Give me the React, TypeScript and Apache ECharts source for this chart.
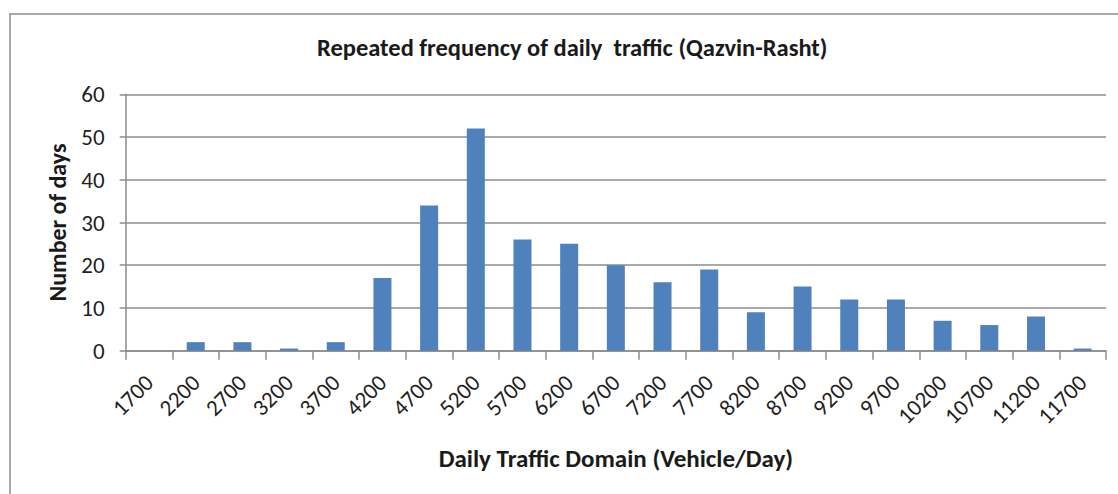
import React, { useEffect, useRef } from "react";
import * as echarts from "echarts";

const categories = ["1700", "2200", "2700", "3200", "3700", "4200", "4700", "5200", "5700", "6200", "6700", "7200", "7700", "8200", "8700", "9200", "9700", "10200", "10700", "11200", "11700"];
const days = [0, 2, 2, 0.5, 2, 17, 34, 52, 26, 25, 20, 16, 19, 9, 15, 12, 12, 7, 6, 8, 0.5];
const yTicks = [0, 10, 20, 30, 40, 50, 60];

const FONT = "Carlito, 'Open Sans', sans-serif";

export default function App() {
  const ref = useRef<HTMLDivElement>(null);
  useEffect(() => {
    if (!ref.current) return;
    const chart = echarts.init(ref.current, undefined, { renderer: "svg" });
    chart.setOption({
      animation: false,
      backgroundColor: "#ffffff",
      title: {
        text: "Repeated frequency of daily  traffic (Qazvin-Rasht)",
        left: 317,
        top: 35,
        padding: 0,
        textStyle: { fontFamily: FONT, fontSize: 24.5, fontWeight: "bold", color: "#1a1a1a" },
      },
      graphic: [
        {
          type: "rect",
          shape: { x: 10, y: 14, width: 1200, height: 600 },
          style: { fill: "none", stroke: "#8c8c8c", lineWidth: 1.5 },
          silent: true,
          z: -1,
        },
      ],
      grid: { left: 125.7, top: 94.3, right: 12, bottom: 143.3, containLabel: false },
      xAxis: {
        type: "category",
        data: categories,
        boundaryGap: true,
        axisLine: { show: true, lineStyle: { color: "#8c8c8c", width: 1.5 } },
        axisTick: { show: true, length: 9, lineStyle: { color: "#8c8c8c", width: 1.5 }, alignWithLabel: false },
        axisLabel: { rotate: 45, margin: 28, interval: 0, fontFamily: FONT, fontSize: 23, color: "#1f1f1f" },
        name: "Daily Traffic Domain (Vehicle/Day)",
        nameLocation: "middle",
        nameGap: 95,
        nameTextStyle: { fontFamily: FONT, fontSize: 25, fontWeight: "bold", color: "#1a1a1a" },
      },
      yAxis: {
        type: "value",
        min: 0,
        max: 60,
        interval: 10,
        axisLine: { show: true, lineStyle: { color: "#8c8c8c", width: 1.5 } },
        axisTick: { show: true, length: 6, lineStyle: { color: "#8c8c8c", width: 1.5 } },
        splitLine: { show: true, lineStyle: { color: "#8c8c8c", width: 1.5 } },
        axisLabel: {
          margin: 21,
          fontFamily: FONT,
          fontSize: 23,
          color: "#1f1f1f",
          formatter: (v: number) => (yTicks.includes(v) ? String(v) : ""),
        },
        name: "Number of days",
        nameLocation: "middle",
        nameGap: 56,
        nameTextStyle: { fontFamily: FONT, fontSize: 24, fontWeight: "bold", color: "#1a1a1a" },
      },
      series: [
        {
          type: "bar",
          data: days,
          barWidth: 18,
          itemStyle: { color: "#4F81BD" },
        },
      ],
    });
    return () => chart.dispose();
  }, []);
  return <div ref={ref} style={{ position: "absolute", left: 0, top: 0, width: 1118, height: 494 }} />;
}
